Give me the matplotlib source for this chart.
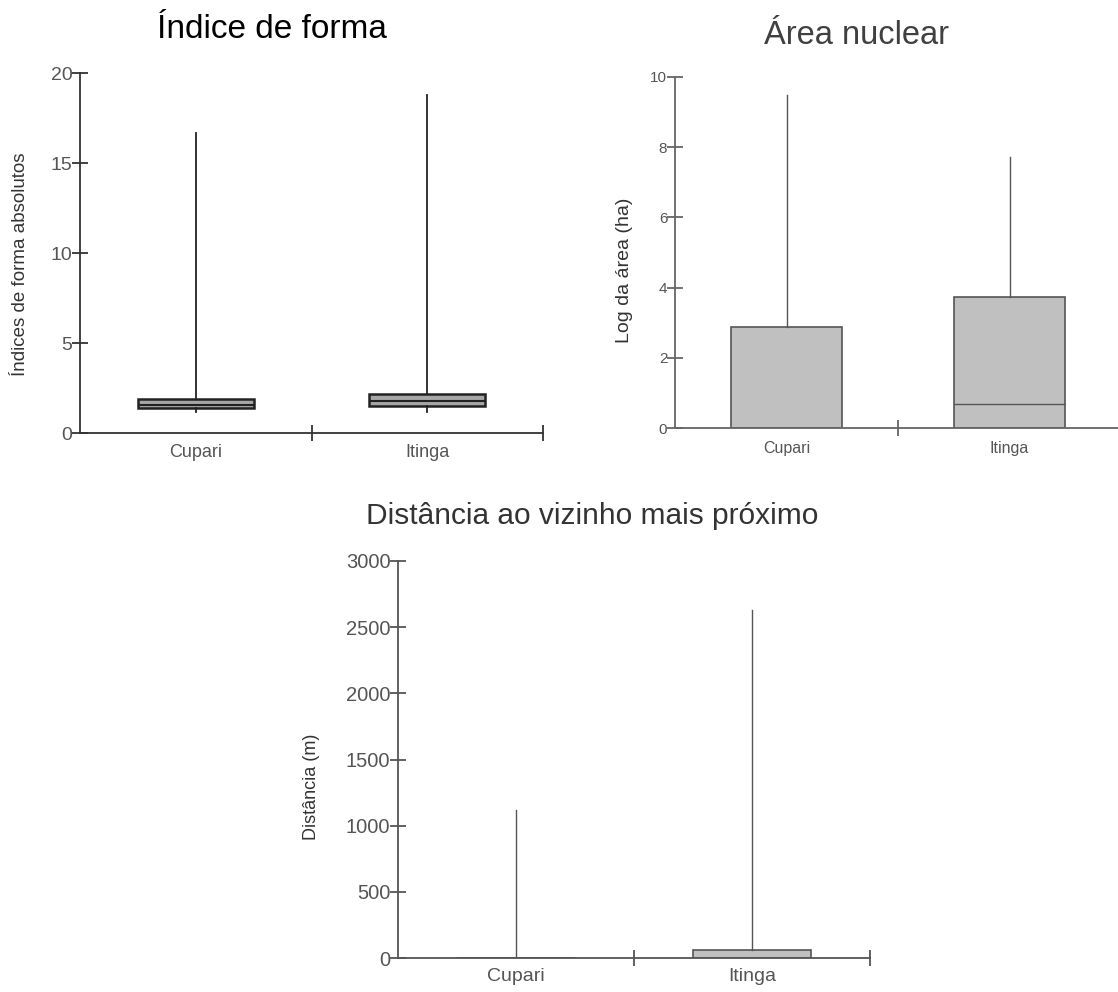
import matplotlib
matplotlib.use('Agg')
import matplotlib.pyplot as plt

plt.rcParams['font.family'] = ['Liberation Sans', 'DejaVu Sans']

categorias = ['Cupari', 'Itinga']

# Índice de forma (min, q1, mediana, q3, max)
forma_min = [1.19, 1.15]
forma_q1 = [1.37, 1.48]
forma_med = [1.56, 1.78]
forma_q3 = [1.89, 2.17]
forma_max = [16.67, 18.8]

# Área nuclear (log ha)
area_min = [0.0, 0.0]
area_q1 = [0.0, 0.0]
area_med = [0.0, 0.68]
area_q3 = [2.89, 3.72]
area_max = [9.5, 7.71]

# Distância ao vizinho mais próximo (m)
dist_min = [0, 0]
dist_q1 = [0, 0]
dist_med = [0, 0]
dist_q3 = [0, 58]
dist_max = [1119, 2628]


def stats(mn, q1, med, q3, mx):
    return [dict(whislo=mn[i], q1=q1[i], med=med[i], q3=q3[i], whishi=mx[i], label=categorias[i])
            for i in range(len(categorias))]


def estilo(ax, ymax, yticks, cor_eixo, tam_tick, tam_cat, pad_cat, lw):
    ax.set_xlim(-0.5, 1.5)
    ax.set_ylim(0, ymax)
    ax.set_yticks(yticks)
    ax.set_xticks([0, 1])
    ax.set_xticklabels(categorias)
    ax.set_xticks([0.5, 1.5], minor=True)
    ax.tick_params(axis='x', which='major', length=0, pad=pad_cat, labelsize=tam_cat, labelcolor='#555555')
    ax.tick_params(axis='x', which='minor', direction='inout', length=12, width=lw, color=cor_eixo)
    ax.tick_params(axis='y', direction='inout', length=11, width=lw, color=cor_eixo, pad=0,
                   labelsize=tam_tick, labelcolor='#555555')
    for s in ['top', 'right']:
        ax.spines[s].set_visible(False)
    for s in ['left', 'bottom']:
        ax.spines[s].set_color(cor_eixo)
        ax.spines[s].set_linewidth(lw)


fig = plt.figure(figsize=(11.18, 9.92), dpi=100)

# Índice de forma
ax1 = fig.add_axes([80 / 1118, 1 - 433 / 992, 463 / 1118, 360 / 992])
ax1.bxp(stats(forma_min, forma_q1, forma_med, forma_q3, forma_max), positions=[0, 1], widths=0.5,
        showcaps=False, showfliers=False, patch_artist=True,
        boxprops=dict(facecolor='#a6a6a6', edgecolor='#222222', linewidth=1.8),
        medianprops=dict(color='#222222', linewidth=1.5),
        whiskerprops=dict(color='#222222', linewidth=1.3))
estilo(ax1, 20, [0, 5, 10, 15, 20], '#333333', 14, 13, 8, 1.3)
ax1.set_ylabel('Índices de forma absolutos', fontsize=13.5, color='#333333')
ax1.yaxis.set_label_coords(-0.11, 0.47)
fig.text(272 / 1118, 1 - 30 / 992, 'Índice de forma', fontsize=24, color='black', ha='center', va='center')

# Área nuclear
ax2 = fig.add_axes([675 / 1118, 1 - 428 / 992, 446 / 1118, 351 / 992])
ax2.bxp(stats(area_min, area_q1, area_med, area_q3, area_max), positions=[0, 1], widths=0.5,
        showcaps=False, showfliers=False, patch_artist=True,
        boxprops=dict(facecolor='#c0c0c0', edgecolor='#555555', linewidth=1.2),
        medianprops=dict(color='#555555', linewidth=1.0),
        whiskerprops=dict(color='#555555', linewidth=1.0))
estilo(ax2, 10, [0, 2, 4, 6, 8, 10], '#666666', 11, 11.5, 9, 1.3)
ax2.set_ylabel('Log da área (ha)', fontsize=14, color='#333333')
ax2.yaxis.set_label_coords(-0.095, 0.45)
fig.text(857 / 1118, 1 - 36 / 992, 'Área nuclear', fontsize=23.5, color='#404040', ha='center', va='center')

# Distância ao vizinho mais próximo
ax3 = fig.add_axes([398 / 1118, 1 - 958 / 992, 472 / 1118, 397 / 992])
ax3.bxp(stats(dist_min, dist_q1, dist_med, dist_q3, dist_max), positions=[0, 1], widths=0.5,
        showcaps=False, showfliers=False, patch_artist=True,
        boxprops=dict(facecolor='#c0c0c0', edgecolor='#555555', linewidth=1.2),
        medianprops=dict(color='#555555', linewidth=1.0),
        whiskerprops=dict(color='#555555', linewidth=1.0))
estilo(ax3, 3000, [0, 500, 1000, 1500, 2000, 2500, 3000], '#555555', 14.5, 14, 7, 1.3)
ax3.set_ylabel('Distância (m)', fontsize=13, color='#333333')
ax3.yaxis.set_label_coords(-0.165, 0.43)
fig.text(592 / 1118, 1 - 516 / 992, 'Distância ao vizinho mais próximo', fontsize=21.5, color='#333333',
         ha='center', va='center')

fig.savefig('out.png', dpi=100)
